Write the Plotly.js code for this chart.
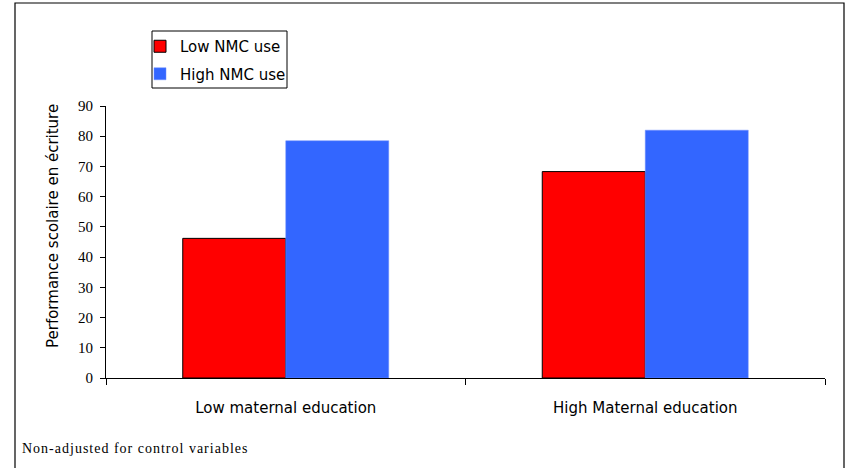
<!DOCTYPE html>
<html>
<head>
<meta charset="utf-8">
<script src="https://cdn.plot.ly/plotly-3.0.1.min.js"></script>
<style>html,body{margin:0;padding:0;background:#fff;}#chart{width:852px;height:468px;}</style>
</head>
<body>
<div id="chart"></div>
<script>
const categories = ["Low maternal education", "High Maternal education"];
const seriesNames = ["Low NMC use", "High NMC use"];
const lowNMC = [46.2, 68.3];
const highNMC = [78.5, 82.0];
const yTicks = [0, 10, 20, 30, 40, 50, 60, 70, 80, 90];
const yTitle = "Performance scolaire en écriture";
const footnote = "Non-adjusted for control variables";

const W = 852, H = 468;
const m = {l: 106, r: 27, t: 106, b: 90};
const pw = W - m.l - m.r, ph = H - m.t - m.b;
const px = x => (x - m.l) / pw;
const py = y => (H - m.b - y) / ph;
const SERIF = "Liberation Serif";
const SANS = "DejaVu Sans";

const traces = [
  {type: "bar", name: seriesNames[0], legendgroup: "a", x: categories, y: lowNMC,
   marker: {color: "#FF0000", line: {color: "#000000", width: 1}}},
  {type: "bar", name: seriesNames[1], legendgroup: "b", x: categories, y: highNMC,
   marker: {color: "#3366FF", line: {color: "#6F8FFF", width: 0.5}}}
];

const layout = {
  width: W, height: H,
  margin: m,
  paper_bgcolor: "#fff", plot_bgcolor: "#fff",
  barmode: "group", bargap: 0.427, bargroupgap: 0,
  showlegend: true,
  legend: {x: px(140), y: py(30), xanchor: "left", yanchor: "top",
           bgcolor: "rgba(0,0,0,0)", borderwidth: 0,
           font: {family: SANS, size: 15, color: "#000"},
           tracegroupgap: 5, itemwidth: 30},
  xaxis: {type: "category", showgrid: false, zeroline: false,
          showline: true, linecolor: "#000", linewidth: 1,
          ticks: "outside", ticklen: 6, tickcolor: "#000", tickson: "boundaries",
          ticklabelstandoff: 16,
          tickfont: {family: SANS, size: 15, color: "#000"}},
  yaxis: {range: [0, 90], tickvals: yTicks, showgrid: false, zeroline: false,
          showline: true, linecolor: "#000", linewidth: 1,
          ticks: "outside", ticklen: 5, tickcolor: "#000",
          ticklabelstandoff: 4,
          tickfont: {family: SERIF, size: 15, color: "#000"}},
  shapes: [
    {type: "rect", xref: "paper", yref: "paper",
     x0: px(15), x1: px(844), y0: py(3), y1: py(480),
     line: {color: "#000", width: 1.2}, fillcolor: "rgba(0,0,0,0)", layer: "below"},
    {type: "rect", xref: "paper", yref: "paper",
     x0: px(152), x1: px(287), y0: py(31), y1: py(88),
     line: {color: "#000", width: 1}, fillcolor: "rgba(0,0,0,0)"}
  ],
  annotations: [
    {text: yTitle, xref: "paper", yref: "paper", x: px(53), y: py(226),
     xanchor: "center", yanchor: "middle", textangle: -90, showarrow: false,
     font: {family: SANS, size: 15, color: "#000"}},
    {text: '<span style="letter-spacing:1px">' + footnote + '</span>',
     xref: "paper", yref: "paper", x: px(20), y: py(448),
     xanchor: "left", yanchor: "middle", showarrow: false,
     font: {family: SERIF, size: 14, color: "#000"}}
  ]
};

Plotly.newPlot("chart", traces, layout, {displayModeBar: false, staticPlot: true});
</script>
</body>
</html>
